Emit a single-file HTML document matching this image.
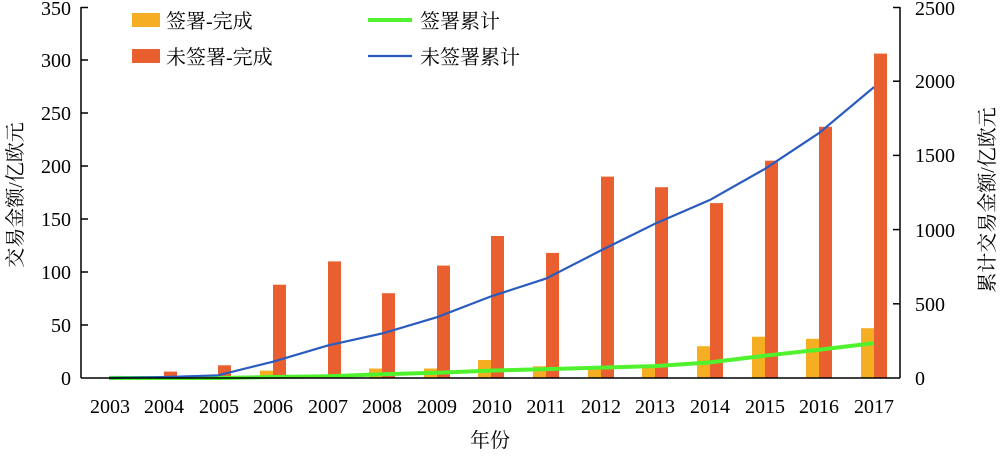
<!DOCTYPE html><html><head><meta charset="utf-8"><style>body{margin:0;background:#fff}svg{font-family:"Liberation Serif","Noto Serif CJK SC",serif}</style></head><body>
<svg width="1000" height="453" xmlns="http://www.w3.org/2000/svg">
<g fill="#f5ae22">
<rect x="260" y="370.6" width="13" height="7.4"/>
<rect x="315" y="375.9" width="13" height="2.1"/>
<rect x="369" y="368.5" width="13" height="9.5"/>
<rect x="424" y="368.5" width="13" height="9.5"/>
<rect x="478" y="360" width="13" height="18"/>
<rect x="533" y="366.3" width="13" height="11.7"/>
<rect x="588" y="366.3" width="13" height="11.7"/>
<rect x="642" y="365.3" width="13" height="12.7"/>
<rect x="697" y="346.2" width="13" height="31.8"/>
<rect x="752" y="336.7" width="13" height="41.3"/>
<rect x="806" y="338.8" width="13" height="39.2"/>
<rect x="861" y="328.2" width="13" height="49.8"/>
</g>
<g fill="#ea5f30">
<rect x="109" y="375.9" width="13" height="2.1"/>
<rect x="164" y="371.6" width="13" height="6.4"/>
<rect x="218" y="365.3" width="13" height="12.7"/>
<rect x="273" y="284.7" width="13" height="93.3"/>
<rect x="328" y="261.4" width="13" height="116.6"/>
<rect x="382" y="293.2" width="13" height="84.8"/>
<rect x="437" y="265.6" width="13" height="112.4"/>
<rect x="491" y="236" width="13" height="142"/>
<rect x="546" y="252.9" width="13" height="125.1"/>
<rect x="601" y="176.6" width="13" height="201.4"/>
<rect x="655" y="187.2" width="13" height="190.8"/>
<rect x="710" y="203.1" width="13" height="174.9"/>
<rect x="765" y="160.7" width="13" height="217.3"/>
<rect x="819" y="126.8" width="13" height="251.2"/>
<rect x="874" y="53.6" width="13" height="324.4"/>
</g>
<polyline fill="none" stroke="#4ff22c" stroke-width="4" points="109,378 164,378 218,378 273,377 328,376.2 382,374.3 437,372.8 491,370.6 546,369.1 601,367.6 655,366.1 710,362.4 765,355.7 819,349.8 874,343.1"/>
<polyline fill="none" stroke="#2a5cbf" stroke-width="2.2" points="109,378 164,377.1 218,375.3 273,361.7 328,345.4 382,333.5 437,317.2 491,296.4 546,278.6 601,250.4 655,223.7 710,199.9 765,168.8 819,133.1 874,87.1"/>
<g stroke="#000" stroke-width="1.5">
<line x1="81" y1="7" x2="81" y2="378"/><line x1="900" y1="7" x2="900" y2="378"/><line x1="81" y1="378" x2="900" y2="378"/>
<line x1="81" x2="88" y1="325" y2="325"/><line x1="81" x2="88" y1="272" y2="272"/><line x1="81" x2="88" y1="219" y2="219"/><line x1="81" x2="88" y1="166" y2="166"/><line x1="81" x2="88" y1="113" y2="113"/><line x1="81" x2="88" y1="60" y2="60"/><line x1="81" x2="88" y1="7.5" y2="7.5"/>
<line x1="893" x2="900" y1="303.8" y2="303.8"/><line x1="893" x2="900" y1="229.6" y2="229.6"/><line x1="893" x2="900" y1="155.4" y2="155.4"/><line x1="893" x2="900" y1="81.2" y2="81.2"/><line x1="893" x2="900" y1="7.5" y2="7.5"/>
</g>
<g font-size="20" text-anchor="end">
<text x="71" y="385">0</text><text x="71" y="332">50</text><text x="71" y="279">100</text><text x="71" y="226">150</text><text x="71" y="173">200</text><text x="71" y="120">250</text><text x="71" y="67">300</text><text x="71" y="15">350</text>
</g>
<g font-size="20">
<text x="915" y="385">0</text><text x="915" y="311">500</text><text x="915" y="237">1000</text><text x="915" y="162">1500</text><text x="915" y="88">2000</text><text x="915" y="15">2500</text>
</g>
<g font-size="20" text-anchor="middle">
<text x="110" y="413">2003</text><text x="164" y="413">2004</text><text x="219" y="413">2005</text><text x="273" y="413">2006</text><text x="328" y="413">2007</text><text x="382" y="413">2008</text><text x="437" y="413">2009</text><text x="492" y="413">2010</text><text x="546" y="413">2011</text><text x="601" y="413">2012</text><text x="655" y="413">2013</text><text x="710" y="413">2014</text><text x="765" y="413">2015</text><text x="819" y="413">2016</text><text x="874" y="413">2017</text>
</g>
<rect x="132" y="13" width="28" height="14" fill="#f5ae22"/><text x="166" y="28" font-size="20">签署-完成</text>
<rect x="132" y="49" width="28" height="14" fill="#ea5f30"/><text x="166" y="64" font-size="20">未签署-完成</text>
<line x1="368" y1="20" x2="412" y2="20" stroke="#4ff22c" stroke-width="4"/><text x="420" y="28" font-size="20">签署累计</text>
<line x1="368" y1="56" x2="412" y2="56" stroke="#2a5cbf" stroke-width="2.2"/><text x="420" y="64" font-size="20">未签署累计</text>
<text x="490" y="447" font-size="20" text-anchor="middle">年份</text>
<text transform="translate(22,195) rotate(-90)" font-size="20" text-anchor="middle">交易金额/亿欧元</text>
<text transform="translate(994,200) rotate(-90)" font-size="20" text-anchor="middle">累计交易金额/亿欧元</text>
</svg></body></html>
